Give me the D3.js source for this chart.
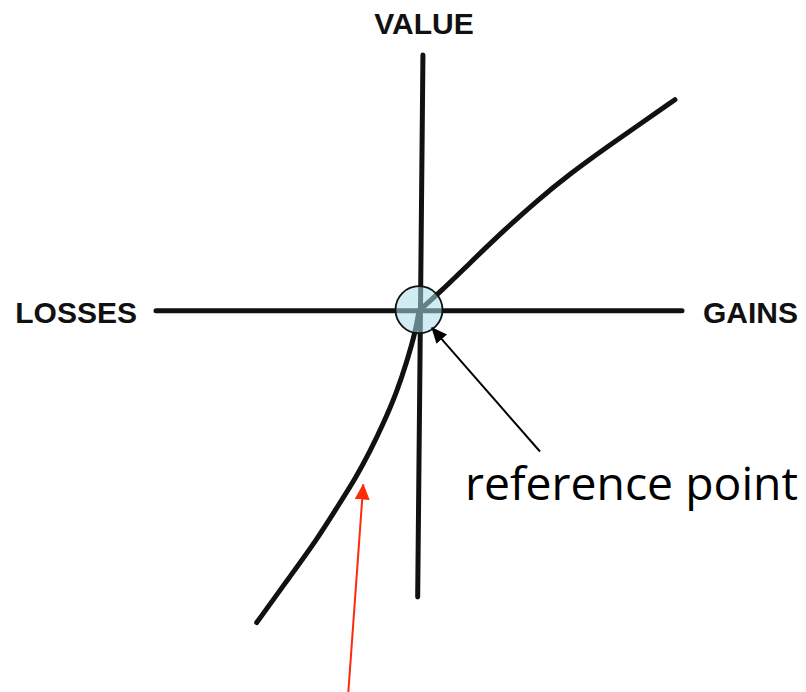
<!DOCTYPE html>
<html>
<head>
<meta charset="utf-8">
<script src="https://cdn.jsdelivr.net/npm/d3@7"></script>
<style>
  body { margin: 0; background: #fff; }
  svg { display: block; }
</style>
</head>
<body>
<svg width="806" height="692"></svg>
<script>
// value function (x = gains/losses, y = value)
var lossX  = [-6.17, -4.90, -3.89, -3.13, -2.37, -1.86, -1.37, -0.85, -0.47, -0.13, 0];
var lossY  = [-12.2, -10.39, -8.96, -7.72, -6.48, -5.50, -4.45, -3.20, -2.03, -0.80, 0];
var gainX  = [0.80, 1.94, 3.21, 4.48, 5.74, 7.01, 8.28, 9.73];
var gainY  = [0.72, 1.87, 3.12, 4.30, 5.35, 6.30, 7.21, 8.25];
var axisLabels = ["VALUE", "LOSSES", "GAINS"];
var refPoint = [0, 0];
var refLabel = "reference point";

var svg = d3.select("svg"),
    width = +svg.attr("width"),
    height = +svg.attr("height");

var x = d3.scaleLinear().domain([-10, 10]).range([156, 682]);
var y = d3.scaleLinear().domain([-11.2, 10]).range([597, 55]);

var lossPts = lossX.map(function(d, i) { return [d, lossY[i]]; });
var gainPts = [refPoint].concat(gainX.map(function(d, i) { return [d, gainY[i]]; }));

var defs = svg.append("defs");
defs.append("marker")
    .attr("id", "headBlack")
    .attr("viewBox", "0 0 16 14")
    .attr("refX", 15).attr("refY", 7)
    .attr("markerUnits", "userSpaceOnUse")
    .attr("markerWidth", 16).attr("markerHeight", 14)
    .attr("orient", "auto")
  .append("path").attr("d", "M0,0L16,7L0,14Z").attr("fill", "#000");
defs.append("marker")
    .attr("id", "headRed")
    .attr("viewBox", "0 0 16 15")
    .attr("refX", 15).attr("refY", 7.5)
    .attr("markerUnits", "userSpaceOnUse")
    .attr("markerWidth", 16).attr("markerHeight", 15)
    .attr("orient", "auto")
  .append("path").attr("d", "M0,0L16,7.5L0,15Z").attr("fill", "#ff2a0a");

var g = svg.append("g");

// axes
g.append("line")
  .attr("x1", x(-10)).attr("y1", y(0))
  .attr("x2", x(10)).attr("y2", y(0))
  .attr("stroke", "#111").attr("stroke-width", 5).attr("stroke-linecap", "round");
g.append("line")
  .attr("x1", x(0.15)).attr("y1", y(10))
  .attr("x2", x(-0.05)).attr("y2", y(-11.2))
  .attr("stroke", "#111").attr("stroke-width", 5).attr("stroke-linecap", "round");

// curve, two branches meeting at the reference point
var line = d3.line()
  .x(function(d) { return x(d[0]); })
  .y(function(d) { return y(d[1]); })
  .curve(d3.curveBasis);
g.selectAll(".branch")
  .data([lossPts, gainPts])
  .enter().append("path")
  .attr("class", "branch")
  .attr("d", line)
  .attr("fill", "none")
  .attr("stroke", "#111")
  .attr("stroke-width", 5)
  .attr("stroke-linecap", "round");

// reference point circle
g.append("circle")
  .attr("cx", x(refPoint[0])).attr("cy", y(refPoint[1]) - 1)
  .attr("r", 23.5)
  .attr("fill", "rgb(170,222,234)")
  .attr("fill-opacity", 0.55)
  .attr("stroke", "#111")
  .attr("stroke-width", 1.8);

// black arrow to the reference point
g.append("line")
  .attr("x1", x(4.6)).attr("y1", y(-5.51))
  .attr("x2", x(0.49)).attr("y2", y(-0.67))
  .attr("stroke", "#000").attr("stroke-width", 2)
  .attr("marker-end", "url(#headBlack)");

// red arrow to the loss curve
g.append("line")
  .attr("x1", x(-2.72)).attr("y1", y(-15.4))
  .attr("x2", x(-2.12)).attr("y2", y(-6.8))
  .attr("stroke", "#ff2a0a").attr("stroke-width", 2)
  .attr("marker-end", "url(#headRed)");

// labels
var labelFont = "'Liberation Sans', Arial, sans-serif";
g.append("text")
  .attr("x", 424).attr("y", 34)
  .attr("text-anchor", "middle")
  .attr("font-family", labelFont).attr("font-weight", "bold").attr("font-size", 30)
  .attr("fill", "#111")
  .text(axisLabels[0]);
g.append("text")
  .attr("x", 137).attr("y", 323)
  .attr("text-anchor", "end")
  .attr("font-family", labelFont).attr("font-weight", "bold").attr("font-size", 30)
  .attr("fill", "#111")
  .text(axisLabels[1]);
g.append("text")
  .attr("x", 703).attr("y", 323)
  .attr("text-anchor", "start")
  .attr("font-family", labelFont).attr("font-weight", "bold").attr("font-size", 30)
  .attr("fill", "#111")
  .text(axisLabels[2]);

g.append("text")
  .attr("x", 465).attr("y", 500)
  .attr("font-family", "'Open Sans', 'Noto Sans', sans-serif")
  .attr("font-size", 46)
  .attr("textLength", 333)
  .attr("lengthAdjust", "spacingAndGlyphs")
  .attr("fill", "#000")
  .text(refLabel);
</script>
</body>
</html>
